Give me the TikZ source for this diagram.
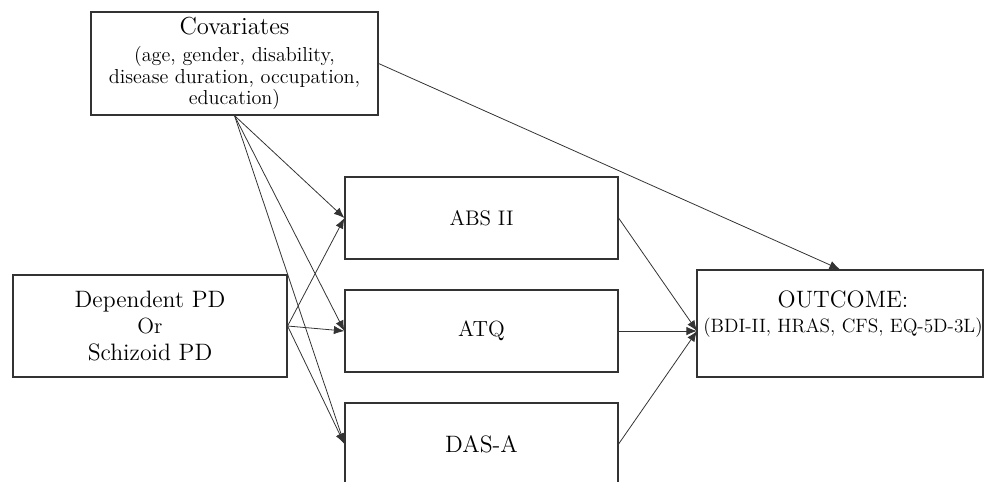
\documentclass[tikz,border=0pt]{standalone}
\usepackage{tikz}
\usetikzlibrary{arrows.meta, calc}

\begin{document}
\begin{tikzpicture}[->,>={Latex[length=6pt,width=4.8pt]},semithick,x=0.02cm,y=-0.02cm]
  \tikzstyle{every node}=[font=\fontsize{11.5}{12.4}\selectfont]
  \tikzstyle{box}=[draw=black!80,line width=0.7pt,rectangle,align=center,inner sep=0pt]
  \tikzstyle{link}=[draw=black!80,line width=0.45pt]

  \useasboundingbox (0,0) rectangle (986,481);

  \node[box, minimum width=5.74cm, minimum height=2.06cm] (cov) at (234.5,63.5)
       {{\fontsize{14}{15}\selectfont Covariates}\\[3pt](age, gender, disability,\\disease duration, occupation,\\education)};
  \node[box, minimum width=5.48cm, minimum height=2.04cm,
        font=\fontsize{13.5}{14}\selectfont] (dep) at (150,326)
       {Dependent PD\\[1pt]{\fontsize{12.5}{12}\selectfont Or}\\[1pt]Schizoid PD};
  \node[box, minimum width=5.46cm, minimum height=1.64cm,
        font=\fontsize{12}{13}\selectfont] (abs) at (481.5,218) {ABS II};
  \node[box, minimum width=5.46cm, minimum height=1.64cm,
        font=\fontsize{12.5}{13}\selectfont] (atq) at (481.5,331) {ATQ};
  \node[box, minimum width=5.46cm, minimum height=1.64cm,
        font=\fontsize{13.5}{14}\selectfont] (das) at (481.5,444) {DAS-A};
  \node[box, minimum width=5.72cm, minimum height=2.14cm] (out) at (840,323.5) {};
  \node[align=center, anchor=north] (outtxt) at ($(out.north)+(3,15)$)
       {{\fontsize{13.5}{14}\selectfont OUTCOME:}\\[2pt]{\fontsize{11}{12}\selectfont (BDI-II, HRAS, CFS, EQ-5D-3L)}};
  \coordinate (join) at (697,331);

  \path (cov.south) edge[link] (abs.west)
        (cov.south) edge[link] (atq.west)
        (cov.south) edge[link] (das.west)
        (dep.east) edge[link] (abs.west)
        (dep.east) edge[link] (atq.west)
        (dep.east) edge[link] (das.west)
        (cov.east) edge[link] (out.north)
        (abs.east) edge[link] (join)
        (atq.east) edge[link] (join)
        (das.east) edge[link] (join);
\end{tikzpicture}
\end{document}
